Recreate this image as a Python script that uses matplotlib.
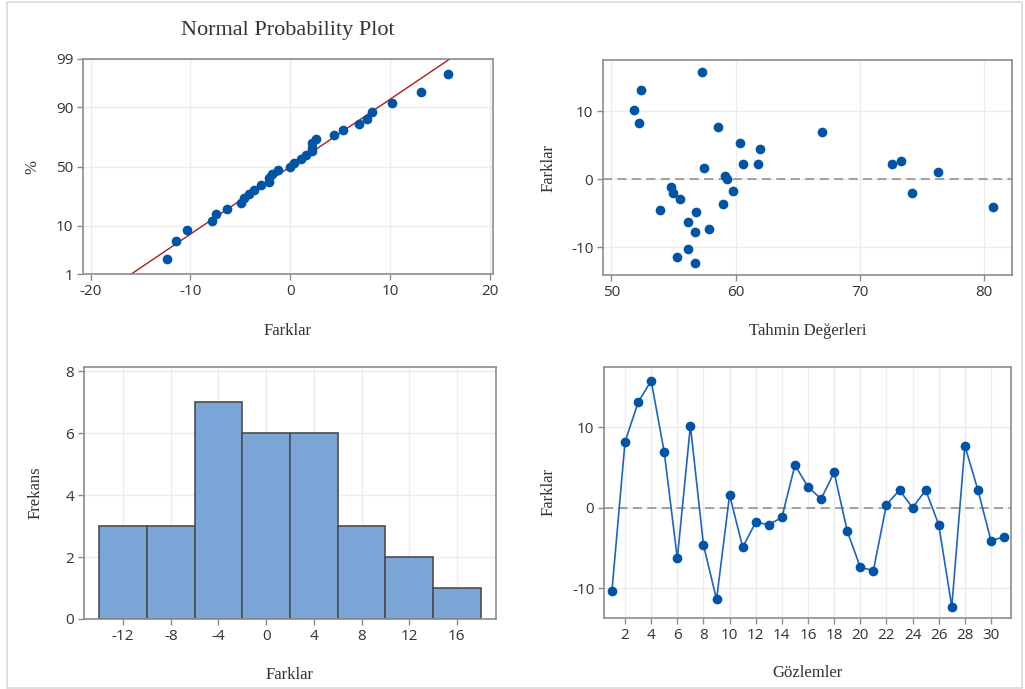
import numpy as np
import matplotlib
matplotlib.use("Agg")
import matplotlib.pyplot as plt
from matplotlib.patches import Rectangle
from statistics import NormalDist

# residuals (Farklar) in observation order
farklar = [-10.3, 8.2, 13.1, 15.8, 6.9, -6.3, 10.2, -4.6, -11.4, 1.6,
           -4.9, -1.8, -2.1, -1.2, 5.3, 2.6, 1.1, 4.4, -2.9, -7.4,
           -7.8, 0.4, 2.2, 0.0, 2.2, -2.1, -12.3, 7.7, 2.2, -4.1, -3.6]
# fitted values (Tahmin Değerleri) in the same order
tahmin = [56.16, 52.26, 52.42, 57.34, 66.94, 56.16, 51.80, 53.95, 55.30, 57.45,
          56.85, 59.76, 55.00, 54.80, 60.35, 73.30, 76.30, 61.94, 55.56, 57.88,
          56.72, 59.17, 60.62, 59.35, 61.80, 74.17, 56.72, 58.60, 72.60, 80.70,
          59.03]
gozlem = list(range(1, len(farklar) + 1))

pct_ticks = [1, 10, 50, 90, 99]
hist_edges = [-14, -10, -6, -2, 2, 6, 10, 14, 18]

plt.rcParams["axes.unicode_minus"] = False

W, H = 1025, 689
fig = plt.figure(figsize=(W / 100, H / 100), dpi=100)

BLUE = "#0054a6"
LINE = "#1e63c0"
SPINE = "#8c8c8c"
GRID = "#ececec"
TXT = "#333333"
TICKFONT = "Open Sans"
SERIF = "Liberation Serif"


def px_axes(l, t, r, b):
    return fig.add_axes([l / W, 1 - b / H, (r - l) / W, (b - t) / H])


def style(ax):
    for s in ax.spines.values():
        s.set_color(SPINE)
        s.set_linewidth(1.2)
    ax.tick_params(colors=SPINE, labelcolor=TXT, length=4, width=1,
                   labelsize=11, pad=3)
    for lab in ax.get_xticklabels() + ax.get_yticklabels():
        lab.set_family(TICKFONT)
    ax.grid(True, color=GRID, lw=1)
    ax.set_axisbelow(True)


def labels(ax, xl, yl, box, xy_px, yx_px):
    l, t, r, b = box
    ax.set_xlabel(xl, family=SERIF, fontsize=12, color=TXT)
    ax.set_ylabel(yl, family=SERIF, fontsize=12, color=TXT)
    ax.xaxis.set_label_coords(0.5, (b - xy_px) / (b - t))
    ax.yaxis.set_label_coords((yx_px - l) / (r - l), 0.5)


# --- normal probability plot
box = (83, 59, 493, 274)
ax1 = px_axes(*box)
nd = NormalDist()
srt = np.sort(farklar)
n = len(srt)
p = (np.arange(1, n + 1) - 0.3) / (n + 0.4)
z = [nd.inv_cdf(v) for v in p]
mu, sd = np.mean(farklar), np.std(farklar, ddof=1)
zl = np.array([-3.0, 3.0])
ax1.plot(mu + sd * zl, zl, color="#a52020", lw=1)
ax1.plot(srt, z, "o", color=BLUE, ms=7, mec=BLUE, mew=0)
ax1.set_xlim(-20.77, 20.33)
ax1.set_ylim(nd.inv_cdf(0.01), nd.inv_cdf(0.99))
ax1.set_xticks([-20, -10, 0, 10, 20])
ax1.set_yticks([nd.inv_cdf(v / 100) for v in pct_ticks])
ax1.set_yticklabels([str(v) for v in pct_ticks])
style(ax1)
labels(ax1, "Farklar", "%", box, 323, 40)
fig.text(288 / W, 1 - 30 / H, "Normal Probability Plot", family=SERIF,
         fontsize=16, color=TXT, ha="center", va="center")

# --- residuals vs fitted
box = (603, 60, 1012, 275)
ax2 = px_axes(*box)
ax2.axhline(0, color="#9a9a9a", lw=1.3, ls=(0, (5, 3)))
ax2.plot(tahmin, farklar, "o", color=BLUE, ms=7, mew=0)
ax2.set_xlim(49.33, 82.26)
ax2.set_ylim(-14.1, 17.5)
ax2.set_xticks([50, 60, 70, 80])
ax2.set_yticks([-10, 0, 10])
style(ax2)
labels(ax2, "Tahmin Değerleri", "Farklar", box, 323, 557)

# --- histogram
box = (84, 367, 496, 619)
ax3 = px_axes(*box)
ax3.hist(farklar, bins=hist_edges, color="#7ba5d7", edgecolor="#4d4d4d", lw=1.2)
ax3.set_xlim(-15.28, 19.28)
ax3.set_ylim(0, 8.14)
ax3.set_xticks([-12, -8, -4, 0, 4, 8, 12, 16])
ax3.set_yticks([0, 2, 4, 6, 8])
style(ax3)
labels(ax3, "Farklar", "Frekans", box, 667, 44)

# --- residuals vs order
box = (604, 367, 1011, 618)
ax4 = px_axes(*box)
ax4.axhline(0, color="#9a9a9a", lw=1.3, ls=(0, (5, 3)))
ax4.plot(gozlem, farklar, "-o", color=LINE, lw=1.2, ms=7, mfc=BLUE, mew=0)
ax4.set_xlim(0.39, 31.53)
ax4.set_ylim(-13.7, 17.5)
ax4.set_xticks(list(range(2, 31, 2)))
ax4.set_yticks([-10, 0, 10])
style(ax4)
labels(ax4, "Gözlemler", "Farklar", box, 665, 557)

# outer frame
fig.patches.append(Rectangle((7 / W, 1 / H), 1015 / W, 686 / H,
                             transform=fig.transFigure, fill=False,
                             ec="#d9d9d9", lw=1.2))

fig.savefig("out.png", dpi=100)
